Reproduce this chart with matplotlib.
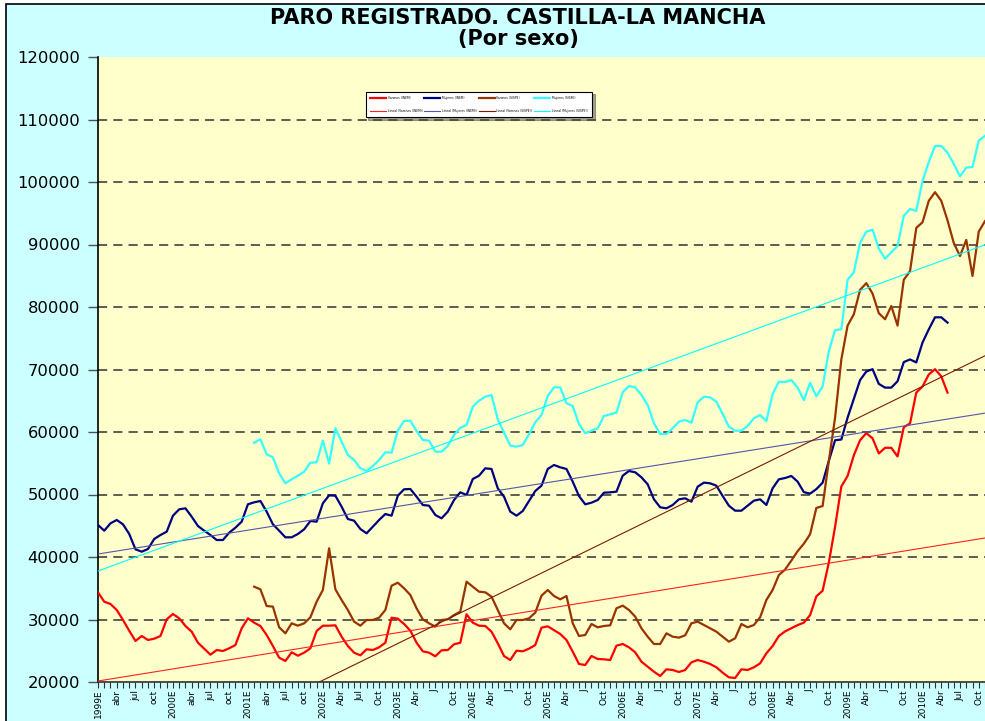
import numpy as np
import matplotlib
matplotlib.use("Agg")
import matplotlib.pyplot as plt
from matplotlib.patches import Rectangle

# monthly data, index 0 = enero 1999
varones_inem = [34350, 32850, 32480, 31520, 29920, 28200, 26560, 27360, 26720, 26930, 27360, 30030,
                30880, 30190, 28960, 28050, 26290, 25330, 24370, 25120, 24960, 25390, 25920, 28590,
                30190, 29490, 28960, 27520, 25760, 23890, 23360, 24750, 24210, 24690, 25390, 28160,
                29010, 29010, 29070, 27250, 25760, 24690, 24270, 25230, 25120, 25550, 26290, 30290,
                30130, 29280, 28210, 26290, 24910, 24690, 24110, 25070, 25120, 26030, 26290, 30830,
                29490, 29010, 28960, 28050, 26190, 24160, 23520, 25010, 24910, 25330, 25920, 28690,
                28910, 28300, 27680, 26720, 24850, 22880, 22720, 24160, 23680, 23630, 23520, 25810,
                26080, 25550, 24750, 23250, 22450, 21650, 20960, 22030, 21920, 21600, 21920, 23150,
                23520, 23250, 22880, 22350, 21490, 20750, 20640, 22030, 21920, 22350, 22990, 24590,
                25760, 27360, 28100, 28600, 29100, 29500, 30700, 33700, 34600, 39100, 44840, 51280,
                52960, 56270, 58680, 59820, 58980, 56570, 57470, 57470, 56090, 60780, 61380, 66310,
                67280, 69200, 70050, 68900, 66300]

mujeres_inem = [45120, 44210, 45390, 45920, 45230, 43680, 41230, 40850, 41280, 42880, 43520, 44050,
                46610, 47630, 47790, 46450, 44960, 44210, 43520, 42720, 42720, 43890, 44690, 45650,
                48430, 48750, 48960, 47260, 45230, 44210, 43150, 43150, 43680, 44430, 45760, 45650,
                48590, 49860, 49810, 48050, 46080, 45810, 44480, 43790, 44850, 45920, 46880, 46610,
                49810, 50830, 50880, 49650, 48320, 48210, 46720, 46190, 47260, 49120, 50350, 49920,
                52480, 53010, 54190, 54080, 50990, 49650, 47260, 46610, 47360, 48960, 50560, 51410,
                54080, 54720, 54350, 54080, 52050, 49760, 48430, 48690, 49120, 50290, 50350, 50450,
                53010, 53760, 53550, 52750, 51630, 49230, 47950, 47790, 48320, 49230, 49390, 48850,
                51250, 51900, 51790, 51410, 49760, 48210, 47410, 47410, 48210, 49010, 49230, 48320,
                50990, 52430, 52640, 52960, 52060, 50380, 50140, 50860, 51880, 55370, 58680, 58800,
                62290, 65290, 68300, 69680, 70050, 67700, 67100, 67100, 68120, 71190, 71610, 71130,
                74320, 76420, 78350, 78350, 77500]

# SISPE series start in febrero 2001 (index 25)
sispe_start = 25
varones_sispe = [35250, 34830, 32160, 32060, 28750, 27790, 29390, 29010, 29390, 30350, 32850,
                 34720, 41390, 34830, 33120, 31520, 29660, 29010, 29920, 29920, 30290, 31520, 35410,
                 35890, 34990, 33920, 31790, 30030, 29390, 28860, 29920, 30030, 30720, 31260, 36050,
                 35250, 34450, 34350, 33650, 31520, 29390, 28430, 29920, 29920, 30190, 31100, 33810,
                 34720, 33760, 33230, 33760, 29390, 27360, 27520, 29280, 28750, 28960, 29070, 31790,
                 32220, 31520, 30460, 28590, 27250, 26080, 26080, 27790, 27250, 27100, 27470, 29390,
                 29660, 29120, 28590, 28050, 27250, 26450, 26990, 29280, 28750, 29120, 30350, 33120,
                 34720, 37120, 38000, 39430, 40930, 42130, 43640, 47850, 48150, 55370, 62290, 71610,
                 77020, 78830, 82740, 83820, 82140, 79010, 78040, 80150, 77020, 84360, 85740, 92660,
                 93560, 96990, 98370, 96990, 93860, 90250, 88150, 90740, 84960, 92060, 93740]

mujeres_sispe = [58290, 58830, 56430, 55950, 53390, 51790, 52430, 53010, 53650, 55090, 55150,
                 58610, 54940, 60590, 58450, 56320, 55520, 54190, 53760, 54560, 55520, 56750, 56690,
                 60210, 61760, 61810, 60160, 58720, 58610, 56850, 56850, 57760, 59520, 60690, 61120,
                 64050, 65010, 65650, 65920, 62030, 59890, 57820, 57650, 57920, 59630, 61550, 62720,
                 65760, 67150, 67150, 64590, 64160, 61280, 59790, 60210, 60590, 62560, 62830, 63090,
                 66350, 67360, 67150, 65920, 64320, 61390, 59680, 59680, 60590, 61660, 61920, 61490,
                 64750, 65650, 65550, 64850, 62880, 60850, 60210, 60210, 60960, 62190, 62720, 61760,
                 66080, 68050, 68000, 68300, 67100, 65110, 67880, 65710, 67280, 72930, 76300, 76420,
                 84360, 85560, 90250, 92060, 92360, 89350, 87730, 88750, 89770, 94590, 95670, 95370,
                 100180, 103190, 105770, 105770, 104690, 102890, 100900, 102290, 102410, 106620, 107400]

# linear trends (value at first and last month)
trend_months = [0, 142]
trend_varones_inem = [20160, 43040]
trend_mujeres_inem = [40480, 63020]
trend_varones_sispe = [2650, 72200]
trend_mujeres_sispe = [37760, 89950]

n_months = 143
tick_labels = ["1999E", "abr", "jul", "oct", "2000E", "abr", "jul", "oct",
               "2001E", "abr", "jul", "oct", "2002E", "Abr", "Jul", "Oct",
               "2003E", "Abr", "J", "Oct", "2004E", "Abr", "J", "Oct",
               "2005E", "Abr", "J", "Oct", "2006E", "Abr", "J", "Oct",
               "2007E", "Abr", "J", "Oct", "2008E", "Abr", "J", "Oct",
               "2009E", "Abr", "J", "Oct", "2010E", "Abr", "Jul", "Oct"]

plt.rcParams["font.family"] = ["DejaVu Sans"]

W, H = 985, 721
fig = plt.figure(figsize=(W / 100, H / 100), dpi=100)
fig.patch.set_facecolor("white")
fig.patches.append(Rectangle((6 / W, -0.05), 1.0, 1.05 - 4 / H, transform=fig.transFigure,
                             facecolor="#CCFFFF", edgecolor="black", lw=1.2, zorder=-10))

ax = fig.add_axes([98 / W, 1 - 682 / H, 887 / W, 625 / H])
ax.set_facecolor("#FFFFCC")

x_inem = np.arange(len(varones_inem))
x_sispe = np.arange(sispe_start, sispe_start + len(varones_sispe))

l1, = ax.plot(x_inem, varones_inem, color="#FF0000", lw=1.6, label="Varones (INEM)", zorder=3)
l2, = ax.plot(x_inem, mujeres_inem, color="#000080", lw=1.6, label="Mujeres (INEM)", zorder=3)
l3, = ax.plot(x_sispe, varones_sispe, color="#993300", lw=1.6, label="Varones (SISPE)", zorder=3)
l4, = ax.plot(x_sispe, mujeres_sispe, color="#33FFFF", lw=1.6, label="Mujeres (SISPE)", zorder=3)

t1, = ax.plot(trend_months, trend_varones_inem, color="#FF2020", lw=0.8,
              label="Lineal (Varones (INEM))", zorder=4)
t2, = ax.plot(trend_months, trend_mujeres_inem, color="#5555AA", lw=0.8,
              label="Lineal (Mujeres (INEM))", zorder=4)
t3, = ax.plot(trend_months, trend_varones_sispe, color="#7A1A00", lw=0.8,
              label="Lineal (Varones (SISPE))", zorder=4)
t4, = ax.plot(trend_months, trend_mujeres_sispe, color="#00FFFF", lw=0.8,
              label="Lineal (Mujeres (SISPE))", zorder=4)

ax.set_xlim(0, n_months - 1)
ax.set_ylim(20000, 120000)
ax.set_yticks(np.arange(20000, 120001, 10000))
ax.set_yticklabels([str(v) for v in range(20000, 120001, 10000)])
for v in range(30000, 120000, 10000):
    ax.axhline(v, color="#303030", lw=1.1, dashes=(6, 4), zorder=1)

ax.set_xticks(np.arange(0, n_months, 3))
ax.set_xticklabels(tick_labels, rotation=90, fontsize=6.5)
ax.set_xticks(np.arange(n_months), minor=True)
ax.tick_params(axis="x", which="both", length=4, width=0.8, pad=1.5, color="#303030")
ax.tick_params(axis="y", length=7, width=1, pad=6, labelsize=11.8, color="#505050")

for s in ["top", "right"]:
    ax.spines[s].set_visible(False)
ax.spines["left"].set_color("black")
ax.spines["left"].set_linewidth(1.2)
ax.spines["bottom"].set_color("#303030")
ax.spines["bottom"].set_linewidth(1.2)

leg = ax.legend(handles=[l1, t1, l2, t2, l3, t3, l4, t4], ncol=4, fontsize=2.2,
                loc="upper left", bbox_to_anchor=(364 / W, 1 - 90 / H),
                bbox_transform=fig.transFigure, handlelength=5.3, handletextpad=0.5,
                columnspacing=0.6, labelspacing=3.0, borderpad=1.4,
                fancybox=False, shadow=True, framealpha=1)
leg.get_frame().set_edgecolor("black")
leg.get_frame().set_linewidth(0.8)

fig.text(518 / W, 1 - 18 / H, "PARO REGISTRADO. CASTILLA-LA MANCHA", ha="center", va="center",
         fontsize=15, fontweight="bold")
fig.text(518 / W, 1 - 39 / H, "(Por sexo)", ha="center", va="center",
         fontsize=15, fontweight="bold")

fig.savefig("out.png", dpi=100, facecolor=fig.get_facecolor())
